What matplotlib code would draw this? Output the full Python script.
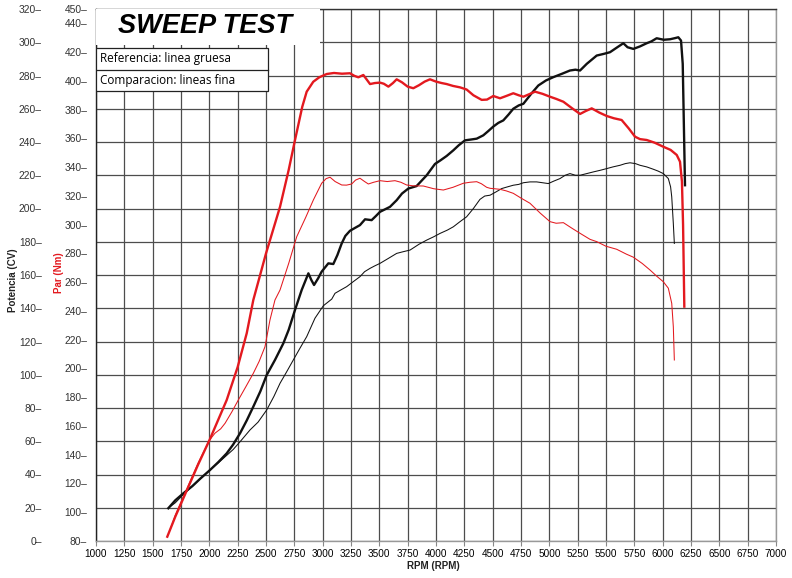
import matplotlib
matplotlib.use("Agg")
import matplotlib.pyplot as plt
from matplotlib.patches import Rectangle
from matplotlib.ticker import FixedLocator, FuncFormatter

# ---------------- data ----------------
ref_torque_rpm = [1629, 1700, 1800, 1900, 2006, 2153, 2250, 2330, 2388, 2500, 2624, 2700, 2756, 2820, 2859,
                  2917, 2970, 3036, 3100, 3170, 3241, 3280, 3315, 3359, 3418, 3460, 3506, 3540, 3580, 3620,
                  3653, 3700, 3750, 3800, 3850, 3900, 3947, 4000, 4050, 4094, 4150, 4212, 4270, 4330, 4403,
                  4450, 4506, 4565, 4620, 4682, 4730, 4771, 4830, 4874, 4940, 5006, 5060, 5124, 5200, 5271,
                  5320, 5374, 5440, 5506, 5570, 5638, 5700, 5756, 5800, 5859, 5930, 6006, 6070, 6124, 6153,
                  6170, 6180, 6191]
ref_torque_nm = [83, 97, 115, 133, 151, 178, 201, 224.5, 247.6, 280, 312.5, 338, 358.9, 382, 392.5,
                 399.4, 402.5, 404.8, 405.5, 405, 405.3, 403.5, 402.5, 404.1, 397.8, 398.5, 398.8, 398, 396, 398.5,
                 401.1, 399, 396, 394.9, 397, 399.5, 401.1, 399.5, 398.5, 397.8, 396.5, 395.5, 394, 390, 386.8,
                 387, 389.5, 387.9, 389.5, 391.4, 390, 389, 391, 392.5, 391, 389, 387.5, 385.5, 381, 377,
                 379, 380.9, 378, 375.6, 374, 372.8, 367, 361.2, 359.5, 358.9, 357, 354.2, 352, 348.5, 343.8,
                 330, 300, 243]

cmp_torque_rpm = [1653, 1700, 1800, 1900, 2000, 2050, 2100, 2139, 2200, 2256, 2320, 2388, 2440, 2491, 2535,
                  2579, 2624, 2700, 2771, 2850, 2918, 2991, 3030, 3065, 3110, 3168, 3210, 3256, 3290, 3329,
                  3370, 3403, 3450, 3506, 3570, 3638, 3690, 3741, 3800, 3888, 3980, 4065, 4150, 4241, 4300,
                  4359, 4400, 4447, 4477, 4565, 4620, 4682, 4750, 4829, 4920, 5006, 5060, 5124, 5200, 5271,
                  5359, 5418, 5500, 5594, 5680, 5741, 5820, 5888, 5950, 6006, 6050, 6080, 6094, 6103]
cmp_torque_nm = [87.6, 98, 116, 134, 150, 155, 158, 161.9, 170, 178.1, 187, 196.6, 205, 215.1, 233.7,
                 247.6, 254.6, 273, 291.6, 305, 317.2, 328.8, 332, 333, 330, 327.6, 327.5, 328.3, 331, 332.3,
                 330, 328.3, 329.5, 330.6, 330, 330.6, 329.5, 327.6, 327, 326.9, 325, 324.1, 326, 328.8, 329.5,
                 329.9, 328.5, 326, 325.3, 324.6, 323.5, 321.8, 318.5, 314.9, 308, 302.1, 301, 301.4, 297.5, 294,
                 289.8, 288.2, 285, 282.9, 279.5, 277.4, 273, 268.5, 264, 260.3, 255.8, 245.3, 229, 205.9]

ref_power_rpm = [1638, 1700, 1771, 1850, 1920, 2006, 2080, 2153, 2210, 2271, 2330, 2388, 2450, 2506, 2580,
                 2653, 2700, 2756, 2815, 2874, 2900, 2924, 2960, 2991, 3050, 3094, 3130, 3168, 3200, 3241,
                 3290, 3329, 3374, 3432, 3470, 3506, 3550, 3594, 3653, 3700, 3756, 3829, 3870, 3918, 3991,
                 4040, 4094, 4153, 4200, 4256, 4310, 4359, 4417, 4460, 4506, 4550, 4594, 4640, 4682, 4730,
                 4771, 4840, 4903, 4970, 5035, 5110, 5182, 5230, 5271, 5330, 5418, 5480, 5535, 5600, 5653,
                 5690, 5741, 5800, 5859, 5900, 5947, 6010, 6065, 6110, 6138, 6162, 6177, 6188, 6197]
ref_power_cv = [19.7, 24.5, 28.7, 33, 37.5, 42.7, 47.5, 52.7, 58, 64.8, 72.5, 80.8, 90, 99.8, 109,
                118.9, 127, 139, 151, 161, 157, 154, 158, 162, 167, 166.6, 172, 179, 183.5, 186.6,
                188.5, 190, 193.5, 193, 195.5, 198, 199.5, 201, 205, 209, 212, 213.5, 216.5, 220, 226.8,
                229, 231.6, 235, 238, 241, 241.5, 242, 244, 246.5, 249.3, 251.5, 253, 256.5, 260, 262,
                263, 269, 274, 277, 279, 281, 283, 283.5, 283, 287, 292, 293, 294, 297, 299.4,
                297, 296, 297.5, 299.4, 300.5, 302.4, 301.5, 301.8, 302.5, 303, 301, 287, 247, 214]

cmp_power_rpm = [1647, 1700, 1771, 1850, 1920, 2006, 2080, 2153, 2210, 2271, 2359, 2430, 2506, 2570, 2624,
                 2680, 2741, 2800, 2859, 2932, 3006, 3080, 3109, 3160, 3212, 3270, 3329, 3370, 3418, 3460,
                 3506, 3580, 3653, 3710, 3771, 3850, 3918, 3980, 4035, 4100, 4153, 4210, 4270, 4330, 4388,
                 4430, 4477, 4530, 4580, 4630, 4682, 4730, 4771, 4830, 4888, 4940, 4991, 5040, 5094, 5140,
                 5182, 5230, 5271, 5330, 5388, 5450, 5506, 5560, 5624, 5670, 5712, 5760, 5800, 5860, 5918,
                 5960, 6006, 6050, 6070, 6080, 6094, 6103]
cmp_power_cv = [20.3, 23, 28, 33, 37.5, 42.7, 47, 51.5, 55, 59.7, 66.8, 71.5, 78.8, 87, 94.9,
                101.5, 108.9, 116, 122.9, 134, 141.5, 145.5, 149, 151, 153, 156, 159, 162, 164, 165.5,
                167, 170, 173, 174, 175, 178.5, 181, 183, 185, 187, 189, 192, 195, 200, 205.5,
                207.5, 208, 210, 212, 213, 214, 214.5, 215.5, 216, 216, 215.5, 215, 216.5, 218, 220,
                221, 220, 220, 221, 222, 223, 224, 225, 226, 227, 227.5, 227, 226, 225, 223.6,
                222.5, 221, 218, 213, 207, 191, 179]

rpm_ticks = list(range(1000, 7001, 250))
power_ticks = list(range(0, 321, 20))
torque_ticks = list(range(80, 441, 20)) + [450]

title_text = "SWEEP TEST"
legend_rows = ["Referencia: linea gruesa", "Comparacion: lineas fina"]

# ---------------- figure ----------------
W, H = 792, 578
fig = plt.figure(figsize=(W / 100, H / 100), dpi=100)
L, R, T, B = 96, 776, 9, 541
ax = fig.add_axes([L / W, 1 - B / H, (R - L) / W, (B - T) / H])
ax.set_xlim(1000, 7000)
ax.set_ylim(0, 320)

ax2 = ax.twinx()
ax2.set_ylim(80, 450)

RED = "#e3191f"
BLACK = "#111111"
GRID = "#4d4d4d"

ax.set_xticks(rpm_ticks)
ax.set_yticks(power_ticks)
ax.grid(True, color=GRID, lw=0.9, zorder=0)
ax.set_axisbelow(True)

font = "Liberation Sans"
ax.tick_params(axis="x", direction="out", length=3.5, width=0.8, color="#888888",
               labelsize=7.2, pad=2.5)
for lab in ax.get_xticklabels():
    lab.set_fontfamily(font)
ax.tick_params(axis="y", length=0, labelsize=7.4, pad=39)
ax.yaxis.set_major_formatter(FuncFormatter(lambda v, p: f"{int(round(v))}\u2013"))
for lab in ax.get_yticklabels():
    lab.set_fontfamily(font)
    lab.set_color("#333333")

ax2.yaxis.set_major_locator(FixedLocator(torque_ticks))
ax2.yaxis.tick_left()
ax2.tick_params(axis="y", length=0, labelsize=7.4, pad=6.3)
ax2.yaxis.set_major_formatter(FuncFormatter(lambda v, p: f"{int(round(v))}\u2013"))
for lab in ax2.get_yticklabels():
    lab.set_fontfamily(font)
    lab.set_color("#333333")
for sp in ax2.spines.values():
    sp.set_visible(False)

for name, sp in ax.spines.items():
    sp.set_linewidth(1.0)
ax.spines["left"].set_color("#222222")
ax.spines["top"].set_color("#333333")
ax.spines["bottom"].set_color("#999999")
ax.spines["right"].set_color("#999999")

# curves
ax2.plot(cmp_torque_rpm, cmp_torque_nm, color=RED, lw=0.75, zorder=3)
ax.plot(cmp_power_rpm, cmp_power_cv, color=BLACK, lw=0.75, zorder=3)
ax2.plot(ref_torque_rpm, ref_torque_nm, color=RED, lw=1.7, zorder=4)
ax.plot(ref_power_rpm, ref_power_cv, color=BLACK, lw=1.7, zorder=4)

# title box
ax.add_patch(Rectangle((1000, 298.6), 1975, 21.4, facecolor="white", edgecolor="none", zorder=5))
ax.text(1966, 309.8, title_text, fontsize=19.5, fontweight="bold", fontstyle="italic",
        family=font, ha="center", va="center", zorder=6)

# legend box
ax.add_patch(Rectangle((1000, 270.7), 1518, 25.8, facecolor="white", edgecolor="#222222",
                       lw=0.9, zorder=5))
ax.plot([1000, 2518], [283.6, 283.6], color="#222222", lw=0.9, zorder=6)
ax.text(1035, 290.0, legend_rows[0], fontsize=8.5, family="Open Sans", ha="left", va="center", zorder=6)
ax.text(1035, 277.2, legend_rows[1], fontsize=8.5, family="Open Sans", ha="left", va="center", zorder=6)

# axis labels
fig.text(12.5 / W, 1 - 280 / H, "Potencia (CV)", rotation=90, ha="center", va="center",
         fontsize=7, fontweight="bold", family=font, color="#222222")
fig.text(59 / W, 1 - 273 / H, "Par (Nm)", rotation=90, ha="center", va="center",
         fontsize=7, fontweight="bold", family=font, color=RED)
fig.text(433 / W, 1 - 566 / H, "RPM (RPM)", ha="center", va="center",
         fontsize=7, fontweight="bold", family=font, color="#222222")

fig.savefig("out.png", dpi=100)
